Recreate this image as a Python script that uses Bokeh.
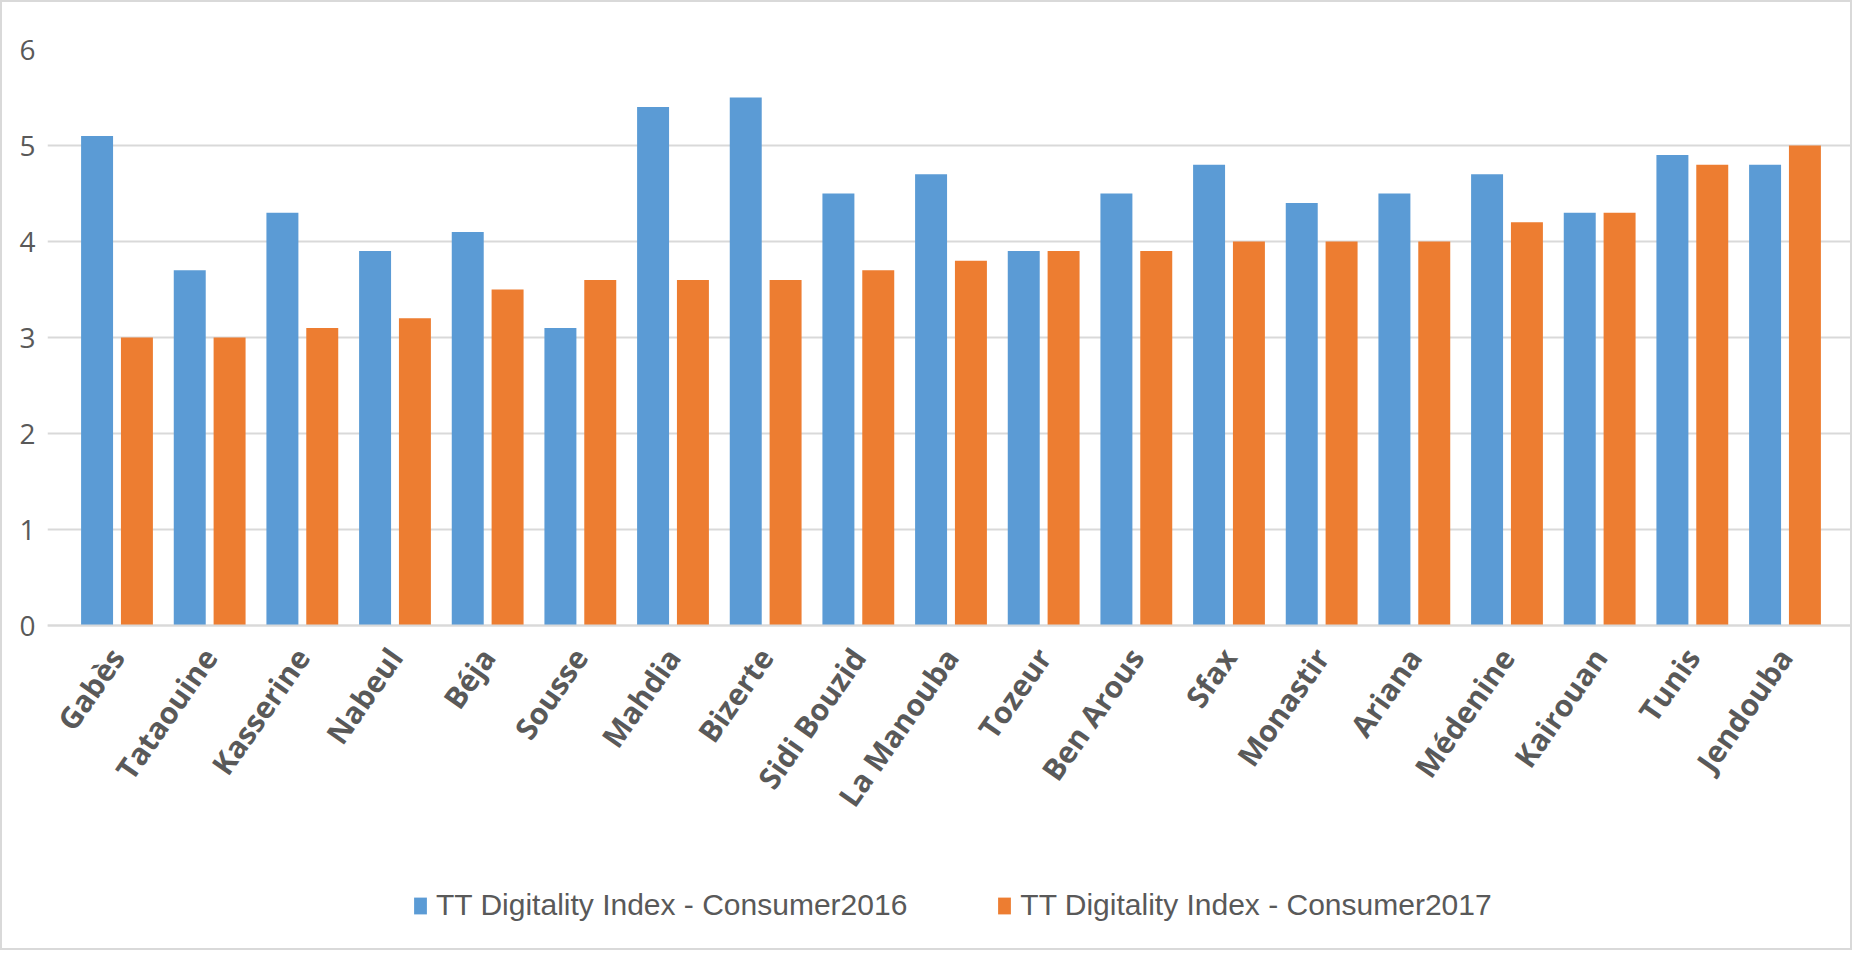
from bokeh.plotting import figure
from bokeh.models import ColumnDataSource, FactorRange, Legend, LegendItem
from bokeh.transform import dodge
from bokeh.embed import file_html
from bokeh.resources import INLINE

regions = ["Gabès", "Tataouine", "Kasserine", "Nabeul", "Béja", "Sousse", "Mahdia",
           "Bizerte", "Sidi Bouzid", "La Manouba", "Tozeur", "Ben Arous", "Sfax",
           "Monastir", "Ariana", "Médenine", "Kairouan", "Tunis", "Jendouba"]
consumer2016 = [5.1, 3.7, 4.3, 3.9, 4.1, 3.1, 5.4, 5.5, 4.5, 4.7, 3.9, 4.5, 4.8,
                4.4, 4.5, 4.7, 4.3, 4.9, 4.8]
consumer2017 = [3.0, 3.0, 3.1, 3.2, 3.5, 3.6, 3.6, 3.6, 3.7, 3.8, 3.9, 3.9, 4.0,
                4.0, 4.0, 4.2, 4.3, 4.8, 5.0]
series_names = ["TT Digitality Index - Consumer2016", "TT Digitality Index - Consumer2017"]
y_ticks = [0, 1, 2, 3, 4, 5, 6]

source = ColumnDataSource(dict(region=regions, c2016=consumer2016, c2017=consumer2017))

# frame runs below zero so that the category labels and legend sit inside it
p = figure(x_range=FactorRange(*regions, range_padding=0.25, range_padding_units="absolute"),
           y_range=(-3.302, 6),
           width=1852, height=950, output_backend="svg", toolbar_location=None,
           min_border_left=45, min_border_right=0, min_border_top=47, min_border_bottom=10)
p.styles = {"border": "2px solid #d9d9d9", "box-sizing": "border-box"}
p.outline_line_color = None
p.background_fill_color = "white"
p.border_fill_color = "white"

r1 = p.vbar(x=dodge("region", -0.215, range=p.x_range), top="c2016", width=0.345,
            source=source, fill_color="#5b9bd5", line_color=None)
r2 = p.vbar(x=dodge("region", 0.215, range=p.x_range), top="c2017", width=0.345,
            source=source, fill_color="#ed7d31", line_color=None)

p.xgrid.grid_line_color = None
p.ygrid.grid_line_color = "#d9d9d9"
p.ygrid.grid_line_width = 2
p.yaxis.ticker = y_ticks
p.yaxis.axis_line_color = None
p.yaxis.major_tick_line_color = None
p.yaxis.minor_tick_line_color = None
p.yaxis.major_label_text_font = "Open Sans"
p.yaxis.major_label_text_font_size = "28px"
p.yaxis.major_label_text_color = "#595959"
p.yaxis.major_label_standoff = 6

p.xaxis.fixed_location = 0
p.xaxis.axis_line_color = "#d9d9d9"
p.xaxis.axis_line_width = 2
p.xaxis.major_tick_line_color = None
p.xaxis.minor_tick_line_color = None
p.xaxis.major_label_orientation = 0.96
p.xaxis.major_label_text_font = "Open Sans"
p.xaxis.major_label_text_font_style = "bold"
p.xaxis.major_label_text_font_size = "30px"
p.xaxis.major_label_text_color = "#595959"
p.xaxis.major_label_standoff = 20

legend = Legend(items=[LegendItem(label=series_names[0], renderers=[r1]),
                       LegendItem(label=series_names[1], renderers=[r2])],
                orientation="horizontal", location=(365, 20),
                label_text_font="Liberation Sans", label_text_font_size="30px",
                label_text_color="#595959", glyph_width=16, glyph_height=21,
                label_standoff=8, spacing=89, border_line_color=None,
                background_fill_alpha=0, margin=0, padding=0)
p.add_layout(legend, "center")

open("out.html", "w").write(file_html(p, INLINE))
